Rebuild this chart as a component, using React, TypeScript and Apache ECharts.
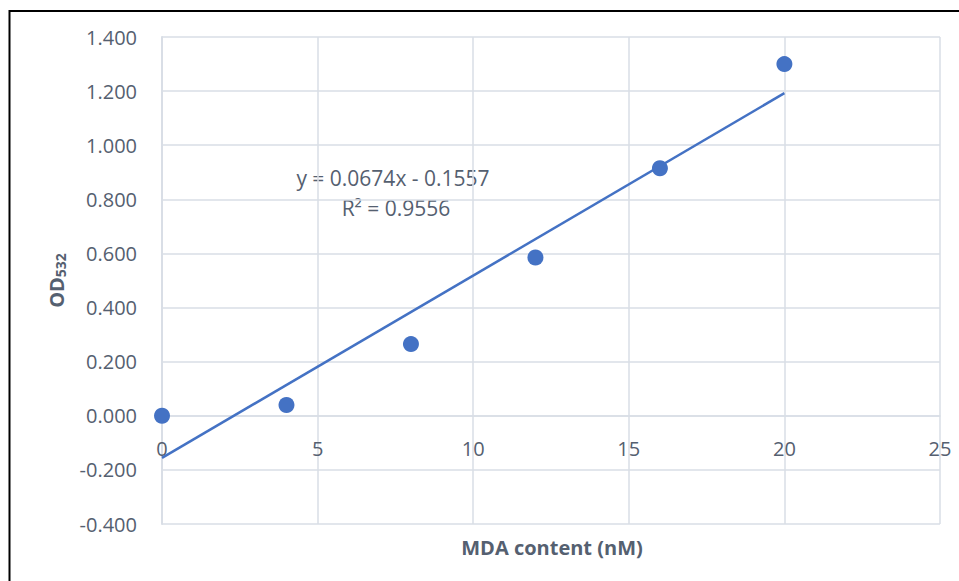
import React, { useEffect, useRef } from "react";
import * as echarts from "echarts";

const mdaContent = [0, 4, 8, 12, 16, 20];
const od532 = [0.0, 0.04, 0.265, 0.585, 0.915, 1.3];
const trendX = [0, 20];
const trendY = [-0.1557, 1.1923];
const equationText = "y = 0.0674x - 0.1557";
const r2Text = "R² = 0.9556";
const xTitle = "MDA content (nM)";

const TEXT = "#556070";
const GRID = "#d9dee6";
const BLUE = "#4472c4";
const FONT = "'Open Sans', 'Noto Sans', sans-serif";

export default function App() {
  const ref = useRef<HTMLDivElement>(null);
  useEffect(() => {
    if (!ref.current) return;
    const chart = echarts.init(ref.current, null, { renderer: "svg" });
    chart.setOption({
      animation: false,
      backgroundColor: "#ffffff",
      grid: { left: 162, right: 19, top: 37, bottom: 57 },
      xAxis: {
        type: "value",
        min: 0,
        max: 25,
        interval: 5,
        offset: -108,
        axisLine: { show: true, onZero: false, lineStyle: { color: GRID, width: 1.5 } },
        axisTick: { show: false },
        axisLabel: { color: TEXT, fontSize: 20, fontFamily: FONT, margin: 22 },
        splitLine: { show: true, lineStyle: { color: GRID, width: 1.5 } },
      },
      yAxis: {
        type: "value",
        min: -0.4,
        max: 1.4,
        interval: 0.2,
        name: "{a|OD}{b|532}",
        nameLocation: "middle",
        nameRotate: 90,
        nameGap: 95,
        nameTextStyle: {
          rich: {
            a: { fontSize: 20, fontWeight: "bold", color: TEXT, fontFamily: FONT },
            b: { fontSize: 14, fontWeight: "bold", color: TEXT, fontFamily: FONT, padding: [8, 0, 0, 0] },
          },
        },
        axisLine: { show: true, onZero: false, lineStyle: { color: GRID, width: 2 } },
        axisTick: { show: false },
        axisLabel: {
          color: TEXT,
          fontSize: 20,
          fontFamily: FONT,
          margin: 25,
          formatter: (v: number) => v.toFixed(3),
        },
        splitLine: { show: true, lineStyle: { color: GRID, width: 1.5 } },
      },
      series: [
        {
          type: "line",
          data: trendX.map((x, i) => [x, trendY[i]]),
          showSymbol: false,
          lineStyle: { color: BLUE, width: 2.5 },
          z: 2,
        },
        {
          type: "scatter",
          data: mdaContent.map((x, i) => [x, od532[i]]),
          symbolSize: 16,
          itemStyle: { color: BLUE, opacity: 1 },
          z: 3,
        },
      ],
      graphic: [
        {
          type: "rect",
          shape: { x: 9.5, y: 11, width: 1000, height: 1000 },
          style: { fill: "none", stroke: "#000", lineWidth: 2 },
          silent: true,
        },
        {
          type: "text",
          x: 393,
          y: 178,
          style: {
            text: equationText,
            fill: TEXT,
            font: `21px ${FONT}`,
            textAlign: "center",
            textVerticalAlign: "middle",
          },
        },
        {
          type: "text",
          x: 396,
          y: 208,
          style: {
            text: r2Text,
            fill: TEXT,
            font: `21px ${FONT}`,
            textAlign: "center",
            textVerticalAlign: "middle",
          },
        },
        {
          type: "text",
          x: 552,
          y: 547,
          style: {
            text: xTitle,
            fill: TEXT,
            font: `bold 20px ${FONT}`,
            textAlign: "center",
            textVerticalAlign: "middle",
          },
        },
      ],
    });
    return () => chart.dispose();
  }, []);
  return (
    <div
      ref={ref}
      style={{ position: "fixed", left: 0, top: 0, width: 959, height: 581 }}
    />
  );
}
